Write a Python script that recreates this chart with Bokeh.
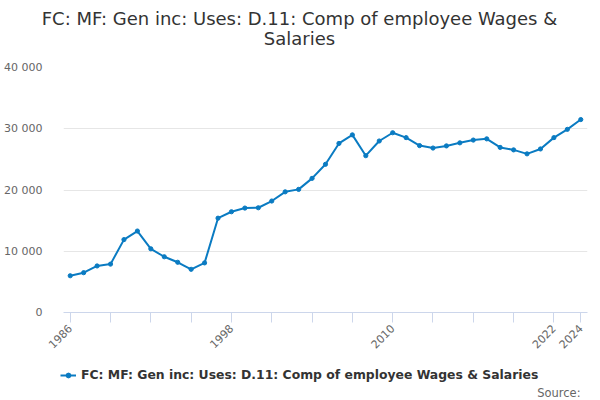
from bokeh.plotting import figure
from bokeh.models import FixedTicker, Legend, LegendItem, ColumnDataSource
from bokeh.layouts import column
from bokeh.core.properties import value
from bokeh.embed import file_html
from bokeh.resources import INLINE
import math

years = list(range(1986, 2025))
values = [6000, 6500, 7600, 7900, 11900, 13300, 10400, 9100, 8200, 7050,
          8100, 15400, 16450, 17050, 17100, 18200, 19700, 20100, 21900, 24200,
          27600, 29000, 25600, 28000, 29350, 28550, 27250, 26850, 27200, 27700,
          28150, 28350, 26950, 26550, 25900, 26700, 28550, 29900, 31500]

y_ticks = [0, 10000, 20000, 30000, 40000]
y_labels = ["0", "10 000", "20 000", "30 000", "40 000"]
x_ticks = list(range(1986, 2023, 3)) + [2024]
x_label_years = [1986, 1998, 2010, 2022, 2024]

series_name = "FC: MF: Gen inc: Uses: D.11: Comp of employee Wages & Salaries"
title_lines = ["FC: MF: Gen inc: Uses: D.11: Comp of employee Wages &", "Salaries"]
source_text = "Source:"

FONT = "DejaVu Sans"
BLUE = "#0a7bc2"
W = 596


def blank_fig(h):
    f = figure(width=W, height=h, output_backend="svg", toolbar_location=None,
               x_range=(0, W), y_range=(h, 0), x_axis_type=None, y_axis_type=None,
               min_border=0, min_border_left=0, min_border_right=0,
               min_border_top=0, min_border_bottom=0)
    f.frame_align = False
    f.outline_line_color = None
    f.xgrid.visible = False
    f.ygrid.visible = False
    f.border_fill_color = "white"
    f.background_fill_color = "white"
    return f


# ---- title strip ----
H_T = 55
pt = blank_fig(H_T)
tsrc = ColumnDataSource(dict(x=[W / 2 + 1, W / 2 + 1], y=[18, 38], t=title_lines))
pt.text(x="x", y="y", text="t", source=tsrc, text_align="center", text_baseline="middle",
        text_font=value(FONT), text_font_size="18px", text_color="#333333")

# ---- main chart ----
FL, FR = 63, 587
FT, FB = 12, 12 + 245
H_M = FB + 48
p = figure(width=W, height=H_M, output_backend="svg", toolbar_location=None,
           x_range=(1985.5, 2024.5), y_range=(0, 40000),
           min_border_left=FL, min_border_right=W - FR,
           min_border_top=FT, min_border_bottom=H_M - FB)
p.frame_align = False
p.outline_line_color = None
p.background_fill_color = "white"
p.border_fill_color = "white"

r_line = p.line(years, values, line_color=BLUE, line_width=2)
r_pts = p.scatter(years, values, size=4.2, fill_color=BLUE, line_color=BLUE)

p.xgrid.grid_line_color = None
p.ygrid.grid_line_color = "#e6e6e6"
p.ygrid.ticker = FixedTicker(ticks=y_ticks)

p.yaxis.ticker = FixedTicker(ticks=y_ticks)
p.yaxis.major_label_overrides = {t: l for t, l in zip(y_ticks, y_labels)}
p.yaxis.axis_line_color = None
p.yaxis.major_tick_line_color = None
p.yaxis.minor_tick_line_color = None
p.yaxis.major_label_text_color = "#666666"
p.yaxis.major_label_text_font = FONT
p.yaxis.major_label_text_font_size = "11px"
p.yaxis.major_label_standoff = 15

p.xaxis.ticker = FixedTicker(ticks=x_ticks)
p.xaxis.major_label_overrides = {t: (str(t) if t in x_label_years else "") for t in x_ticks}
p.xaxis.axis_line_color = "#ccd6eb"
p.xaxis.major_tick_line_color = "#ccd6eb"
p.xaxis.major_tick_out = 10
p.xaxis.major_tick_in = 0
p.xaxis.minor_tick_line_color = None
p.xaxis.major_label_orientation = math.pi / 4
p.xaxis.major_label_text_color = "#666666"
p.xaxis.major_label_text_font = FONT
p.xaxis.major_label_text_font_size = "11px"
p.xaxis.major_label_standoff = 4

# ---- legend + source strip ----
H_L = 38
pl = blank_fig(H_L)
# legend proxies: same series, lying outside this strip's visible range
lr_line = pl.line(years, values, line_color=BLUE, line_width=2)
lr_pts = pl.scatter(years, values, size=4, fill_color=BLUE, line_color=BLUE)
legend = Legend(items=[LegendItem(label=series_name, renderers=[lr_line, lr_pts])],
                location=(60, 16), orientation="horizontal",
                label_text_font=FONT, label_text_font_size="12.4px",
                label_text_font_style="bold", label_text_color="#333333",
                border_line_color=None, background_fill_alpha=0,
                glyph_width=16, glyph_height=12, label_standoff=5, padding=0, margin=0,
                label_height=14)
pl.add_layout(legend, "center")
ssrc = ColumnDataSource(dict(x=[580], y=[32], t=[source_text]))
pl.text(x="x", y="y", text="t", source=ssrc, text_align="right", text_baseline="middle",
        text_font=value(FONT), text_font_size="11.5px", text_color="#666666")

layout = column(pt, p, pl, spacing=0)
open("out.html", "w").write(file_html(layout, INLINE))
